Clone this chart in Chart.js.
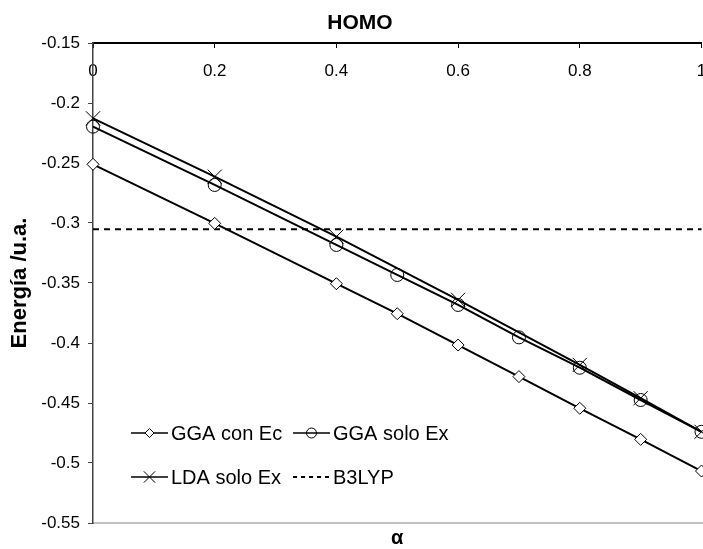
<!DOCTYPE html>
<html>
<head>
<meta charset="utf-8">
<script src="https://cdn.jsdelivr.net/npm/chart.js@4/dist/chart.umd.min.js"></script>
<style>
  html, body { margin: 0; padding: 0; background: #fff; }
  #wrap { width: 703px; height: 549px; position: relative; }
</style>
</head>
<body>
<div id="wrap"><canvas id="c"></canvas></div>
<script>
// ---- data ----
const chartTitle = 'HOMO';
const xTitle = 'α';
const yTitle = 'Energía /u.a.';
const seriesNames = ['GGA con Ec', 'GGA solo Ex', 'LDA solo Ex', 'B3LYP'];
const alpha = [0, 0.2, 0.4, 0.5, 0.6, 0.7, 0.8, 0.9, 1];
const ggaConEc = [-0.2511, -0.3003, -0.3506, -0.3756, -0.4017, -0.428, -0.4544, -0.4803, -0.5067];
const ggaSoloEx = [-0.2197, -0.2683, -0.3183, -0.3433, -0.3683, -0.3953, -0.4206, -0.4475, -0.474];
const ldaSoloEx = [-0.2128, -0.2614, -0.3114, null, -0.364, null, -0.4183, -0.446, -0.474];
const b3lypAlpha = [0, 1];
const b3lyp = [-0.3053, -0.3053];
const xMin = 0, xMax = 1, xStep = 0.2;
const yMin = -0.55, yMax = -0.15, yStep = 0.05;

const FONT = "'Liberation Sans', Arial, sans-serif";
Chart.defaults.font.family = FONT;
Chart.defaults.color = '#000';

const toXY = (xs, ys) => xs.map((x, i) => ({ x: x, y: ys[i] }));
const fmt = v => String(parseFloat(Number(v).toFixed(2)));

const styles = [
  { pointStyle: 'rectRot', pointRadius: 6, pointBackgroundColor: '#fff', legendRadius: 4.5 },
  { pointStyle: 'circle', pointRadius: 6.5, pointBackgroundColor: 'rgba(0,0,0,0)', legendRadius: 5 },
  { pointStyle: 'crossRot', pointRadius: 10, pointBackgroundColor: 'rgba(0,0,0,0)', legendRadius: 8 },
  { pointStyle: false, pointRadius: 0, borderDash: [6, 5], legendRadius: 0 }
];

const datasets = [
  { label: seriesNames[0], data: toXY(alpha, ggaConEc) },
  { label: seriesNames[1], data: toXY(alpha, ggaSoloEx) },
  { label: seriesNames[2], data: toXY(alpha, ldaSoloEx) },
  { label: seriesNames[3], data: toXY(b3lypAlpha, b3lyp) }
].map((d, i) => Object.assign(d, {
  borderColor: '#000',
  borderWidth: 2,
  pointStyle: styles[i].pointStyle,
  pointRadius: styles[i].pointRadius,
  pointHoverRadius: styles[i].pointRadius,
  pointBackgroundColor: styles[i].pointBackgroundColor || '#fff',
  pointBorderColor: '#000',
  pointBorderWidth: 1,
  borderDash: styles[i].borderDash || [],
  spanGaps: true,
  clip: false,
  tension: 0,
  fill: false
}));

function drawMarker(ctx, style, x, y, r) {
  ctx.save();
  ctx.lineWidth = 1;
  ctx.strokeStyle = '#000';
  ctx.beginPath();
  if (style === 'rectRot') {
    ctx.moveTo(x, y - r); ctx.lineTo(x + r, y); ctx.lineTo(x, y + r); ctx.lineTo(x - r, y); ctx.closePath();
    ctx.fillStyle = '#fff'; ctx.fill(); ctx.stroke();
  } else if (style === 'circle') {
    ctx.arc(x, y, r, 0, Math.PI * 2); ctx.stroke();
  } else if (style === 'crossRot') {
    const d = r * Math.SQRT1_2;
    ctx.moveTo(x - d, y - d); ctx.lineTo(x + d, y + d);
    ctx.moveTo(x - d, y + d); ctx.lineTo(x + d, y - d); ctx.stroke();
  }
  ctx.restore();
}

const framePlugin = {
  id: 'frame',
  beforeDraw(chart) {
    const { ctx, chartArea } = chart;
    if (chart.titleBlock) { chart.titleBlock.left = 17; chart.titleBlock.right = chart.width; }
    ctx.save();
    ctx.strokeStyle = '#c0c0c0';
    ctx.lineWidth = 2;
    ctx.beginPath();
    ctx.moveTo(chartArea.left, chartArea.bottom);
    ctx.lineTo(chart.width, chartArea.bottom);
    ctx.stroke();
    ctx.restore();
  }
};

const legendPlugin = {
  id: 'insideLegend',
  afterDraw(chart) {
    const ctx = chart.ctx;
    const cols = [131, 293];
    const rows = [433, 477];
    const lineLen = 37;
    ctx.save();
    ctx.font = '20px ' + FONT;
    ctx.textBaseline = 'middle';
    ctx.textAlign = 'left';
    chart.data.datasets.forEach((ds, i) => {
      const x0 = cols[i % 2], y = rows[Math.floor(i / 2)];
      ctx.save();
      ctx.strokeStyle = '#000';
      ctx.lineWidth = ds.borderDash && ds.borderDash.length ? 2 : 1.5;
      ctx.setLineDash(ds.borderDash && ds.borderDash.length ? [4, 4] : []);
      ctx.beginPath();
      ctx.moveTo(x0, y); ctx.lineTo(x0 + lineLen, y); ctx.stroke();
      ctx.restore();
      drawMarker(ctx, ds.pointStyle, x0 + lineLen / 2, y, styles[i].legendRadius);
      ctx.fillStyle = '#000';
      ctx.fillText(ds.label, x0 + lineLen + 3, y + 1);
    });
    ctx.restore();
  }
};

new Chart(document.getElementById('c'), {
  type: 'line',
  data: { datasets: datasets },
  plugins: [framePlugin, legendPlugin],
  options: {
    responsive: true,
    maintainAspectRatio: false,
    animation: false,
    events: [],
    layout: { autoPadding: false, padding: { left: 0, right: 1.5, top: 0, bottom: 0 } },
    plugins: {
      legend: { display: false },
      tooltip: { enabled: false },
      title: {
        display: true, text: chartTitle, color: '#000',
        font: { size: 21, weight: 'bold' },
        padding: { top: 11, bottom: 6.8 }
      }
    },
    scales: {
      x: {
        type: 'linear', position: 'top', min: xMin, max: xMax,
        ticks: { stepSize: xStep, mirror: true, padding: 18, font: { size: 17 }, color: '#000',
                 maxRotation: 0, autoSkip: false, callback: v => fmt(v) },
        grid: { display: true, drawOnChartArea: false, drawTicks: true, tickLength: -5, color: '#000', lineWidth: 1 },
        border: { display: true, color: '#000', width: 2 },
        afterFit(s) { s.height = 0; s.paddingLeft = 0; s.paddingRight = 0; }
      },
      x2: {
        type: 'linear', position: 'bottom', min: xMin, max: xMax, display: true,
        ticks: { display: false },
        grid: { display: false },
        border: { display: false },
        title: { display: true, text: xTitle, color: '#000',
                 font: { size: 20, weight: 'bold', lineHeight: 1 }, padding: { top: 4, bottom: 1 } },
        afterFit(s) { s.height = 26; s.paddingLeft = 0; s.paddingRight = 0; }
      },
      y: {
        type: 'linear', position: 'left', min: yMin, max: yMax,
        ticks: { stepSize: yStep, padding: 8, font: { size: 17 }, color: '#000', callback: v => fmt(v) },
        grid: { display: true, drawOnChartArea: false, drawTicks: true, tickLength: 5, color: '#444', lineWidth: 1 },
        border: { display: true, color: '#444', width: 1.5 },
        title: { display: true, text: yTitle, color: '#000',
                 font: { size: 22, weight: 'bold' }, padding: { top: 7, bottom: 0 } },
        afterFit(s) { s.width = 93; }
      }
    }
  }
});
</script>
</body>
</html>
